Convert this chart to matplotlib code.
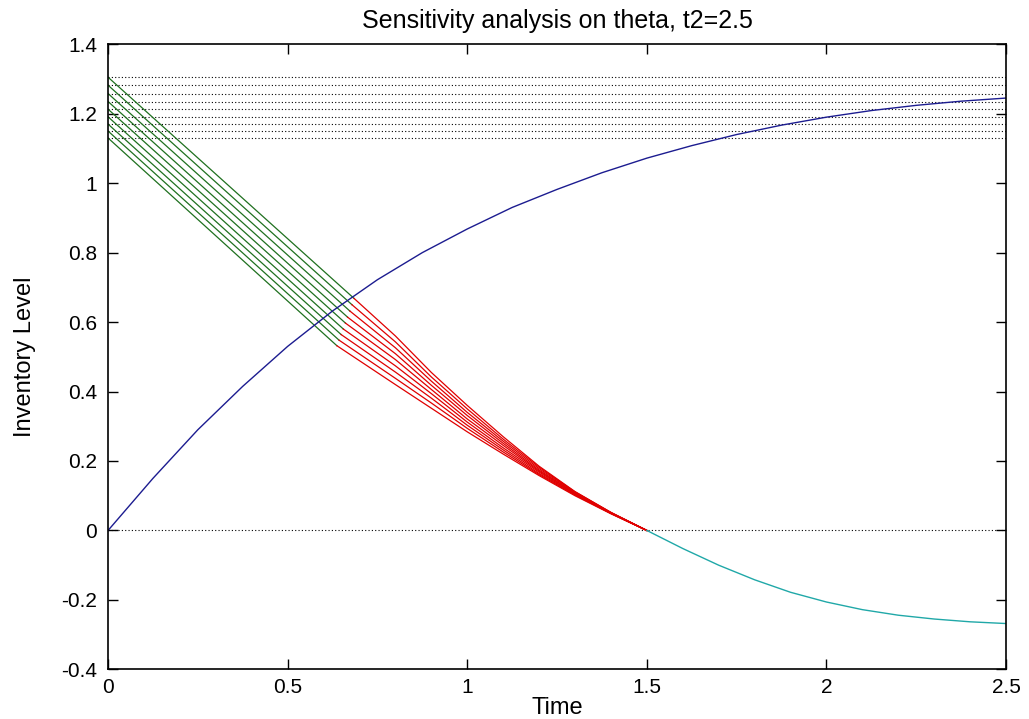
import numpy as np
import matplotlib
matplotlib.use("Agg")
import matplotlib.pyplot as plt

plt.rcParams['font.family'] = ['Liberation Sans Narrow', 'Liberation Sans', 'DejaVu Sans']

# initial inventory levels (one per theta value), top to bottom
start_levels = [1.305, 1.282, 1.258, 1.235, 1.213, 1.191, 1.170, 1.150, 1.130]
# end of the linear part for each curve
t1_values = [0.685, 0.679, 0.673, 0.667, 0.661, 0.655, 0.649, 0.643, 0.637]
t1_levels = [0.668, 0.650, 0.632, 0.614, 0.597, 0.580, 0.564, 0.548, 0.532]

# deteriorating part, sampled at these times
red_t = [0.8, 0.9, 1.0, 1.1, 1.2, 1.3, 1.4, 1.5]
red_levels = [
    [0.560, 0.455, 0.360, 0.270, 0.185, 0.112, 0.052, 0.0],
    [0.543, 0.442, 0.350, 0.263, 0.182, 0.111, 0.052, 0.0],
    [0.526, 0.430, 0.340, 0.257, 0.178, 0.110, 0.051, 0.0],
    [0.509, 0.418, 0.331, 0.251, 0.174, 0.108, 0.051, 0.0],
    [0.492, 0.406, 0.321, 0.245, 0.171, 0.107, 0.050, 0.0],
    [0.474, 0.394, 0.312, 0.238, 0.168, 0.105, 0.050, 0.0],
    [0.456, 0.381, 0.303, 0.232, 0.164, 0.104, 0.049, 0.0],
    [0.438, 0.367, 0.294, 0.226, 0.161, 0.102, 0.049, 0.0],
    [0.420, 0.352, 0.284, 0.220, 0.158, 0.100, 0.048, 0.0],
]

# blue curve
blue_t = [0, 0.125, 0.25, 0.375, 0.5, 0.625, 0.75, 0.875, 1.0, 1.125, 1.25,
          1.375, 1.5, 1.625, 1.75, 1.875, 2.0, 2.125, 2.25, 2.375, 2.5]
blue_v = [0, 0.15, 0.29, 0.415, 0.53, 0.632, 0.722, 0.80, 0.868, 0.93, 0.982,
          1.03, 1.072, 1.108, 1.14, 1.167, 1.19, 1.209, 1.224, 1.236, 1.245]

# shortage part
cyan_t = [1.5, 1.6, 1.7, 1.8, 1.9, 2.0, 2.1, 2.2, 2.3, 2.4, 2.5]
cyan_v = [0, -0.052, -0.100, -0.142, -0.178, -0.206, -0.228, -0.244, -0.255, -0.263, -0.268]

fig = plt.figure(figsize=(10.29, 7.19), dpi=100)
ax = fig.add_axes([0.105, 0.069, 0.8727, 0.8695])

dot = (0, (1, 2))
for lvl in start_levels:
    ax.plot([0, 2.5], [lvl, lvl], color='k', linestyle=dot, lw=0.8)
ax.plot([0, 2.5], [0, 0], color='k', linestyle=dot, lw=0.8)

for i in range(len(start_levels)):
    ax.plot([0, t1_values[i]], [start_levels[i], t1_levels[i]], color='#1f701f', lw=0.9)
    ax.plot([t1_values[i]] + red_t, [t1_levels[i]] + red_levels[i], color='#e00000', lw=0.9)

ax.plot(blue_t, blue_v, color='#1c1c90', lw=1.0)
ax.plot(cyan_t, cyan_v, color='#20a8a8', lw=1.0)

ax.set_xlim(0, 2.5)
ax.set_ylim(-0.4, 1.4)
ax.set_xticks([0, 0.5, 1, 1.5, 2, 2.5])
ax.set_xticklabels(['0', '0.5', '1', '1.5', '2', '2.5'])
ax.set_yticks([-0.4, -0.2, 0, 0.2, 0.4, 0.6, 0.8, 1, 1.2, 1.4])
ax.set_yticklabels(['-0.4', '-0.2', '0', '0.2', '0.4', '0.6', '0.8', '1', '1.2', '1.4'])
ax.tick_params(direction='in', top=True, right=True, length=7, width=1, labelsize=15)
ax.tick_params(axis='x', pad=6)
ax.tick_params(axis='y', pad=8)
for s in ax.spines.values():
    s.set_linewidth(1.2)

ax.set_title('Sensitivity analysis on theta, t2=2.5', fontsize=18, pad=12)
ax.set_xlabel('Time', fontsize=17, labelpad=0)
ax.set_ylabel('Inventory Level', fontsize=17, labelpad=18)

fig.savefig('out.png', dpi=100)
